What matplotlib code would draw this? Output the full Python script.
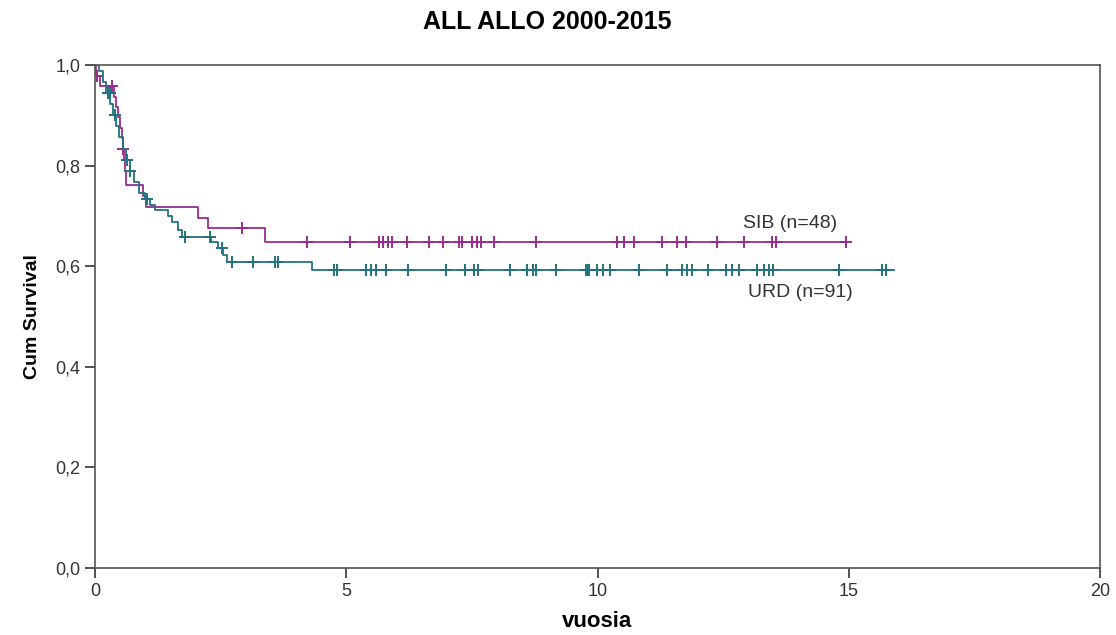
import numpy as np
import matplotlib
matplotlib.use("Agg")
import matplotlib.pyplot as plt

plt.rcParams['font.family'] = ['Liberation Sans', 'DejaVu Sans']

# Kaplan-Meier step curves (time in years, survival)
sib_times = [0, 0.02, 0.10, 0.38, 0.42, 0.46, 0.50, 0.53, 0.55, 0.58, 0.60, 0.62, 0.95, 1.02, 2.05, 2.25, 3.38]
sib_surv = [1.0, 0.979, 0.958, 0.937, 0.917, 0.896, 0.875, 0.854, 0.833, 0.812, 0.790, 0.762, 0.740, 0.718, 0.696, 0.675, 0.649]
sib_end = 15.0
sib_cens = [0.04, 0.34, 0.56, 2.92, 4.21, 5.07, 5.65, 5.74, 5.84, 5.92, 6.20, 6.65, 6.92, 7.25, 7.31,
            7.51, 7.61, 7.68, 7.95, 8.78, 10.39, 10.53, 10.73, 11.29, 11.59, 11.76, 12.38, 12.92,
            13.48, 13.56, 14.95]

urd_times = [0, 0.08, 0.15, 0.22, 0.30, 0.36, 0.42, 0.48, 0.55, 0.62, 0.70, 0.78, 0.88, 1.00, 1.10,
             1.19, 1.45, 1.53, 1.65, 1.73, 2.30, 2.45, 2.55, 2.62, 4.31]
urd_surv = [1.0, 0.989, 0.967, 0.945, 0.923, 0.900, 0.878, 0.856, 0.834, 0.812, 0.789, 0.767, 0.745,
            0.733, 0.722, 0.711, 0.700, 0.688, 0.672, 0.658, 0.648, 0.637, 0.623, 0.609, 0.593]
urd_end = 15.9
urd_cens = [0.26, 0.29, 0.40, 0.64, 0.70, 1.03, 1.79, 2.29, 2.52, 2.72, 3.14, 3.58, 3.65,
            4.75, 4.81, 5.40, 5.50, 5.60, 5.80, 6.22, 6.98, 7.36, 7.55, 7.62, 8.25, 8.59, 8.71,
            8.78, 9.17, 9.78, 9.81, 9.84, 9.98, 10.10, 10.24, 10.83, 11.39, 11.69, 11.79, 11.89,
            12.19, 12.56, 12.68, 12.82, 13.18, 13.32, 13.42, 13.50, 14.81, 15.67, 15.75]

sib_color = '#9a2c90'
urd_color = '#22727f'


def level_at(times, surv, t):
    idx = np.searchsorted(times, t, side='right') - 1
    return surv[idx]


fig = plt.figure(figsize=(11.16, 6.35), dpi=100)
ax = fig.add_axes([0.0851, 0.1055, 0.9006, 0.7921])

for times, surv, end, cens, col in [(sib_times, sib_surv, sib_end, sib_cens, sib_color),
                                    (urd_times, urd_surv, urd_end, urd_cens, urd_color)]:
    ax.step(times + [end], surv + [surv[-1]], where='post', color=col, lw=1.3)
    ys = [level_at(times, surv, t) for t in cens]
    ax.plot(cens, ys, linestyle='none', marker='+', markersize=9, mew=1.4, color=col)

ax.text(12.9, 0.675, 'SIB (n=48)', fontsize=14, color='#333333')
ax.text(13.0, 0.538, 'URD (n=91)', fontsize=14, color='#333333')

ax.set_xlim(0, 20)
ax.set_ylim(0, 1.0)
ax.set_xticks([0, 5, 10, 15, 20])
ax.set_yticks([0, 0.2, 0.4, 0.6, 0.8, 1.0])
ax.set_yticklabels(['0,0', '0,2', '0,4', '0,6', '0,8', '1,0'])
ax.tick_params(direction='out', length=7, width=1.2, labelsize=13, colors='#333333')
for s in ax.spines.values():
    s.set_color('#555555')
    s.set_linewidth(1.2)

ax.set_xlabel('vuosia', fontsize=16, fontweight='bold', labelpad=8)
ax.set_ylabel('Cum Survival', fontsize=14, fontweight='bold', labelpad=10)
fig.suptitle('ALL ALLO 2000-2015', x=0.49, y=0.985, fontsize=18, fontweight='bold')

fig.savefig('out.png', dpi=100)
